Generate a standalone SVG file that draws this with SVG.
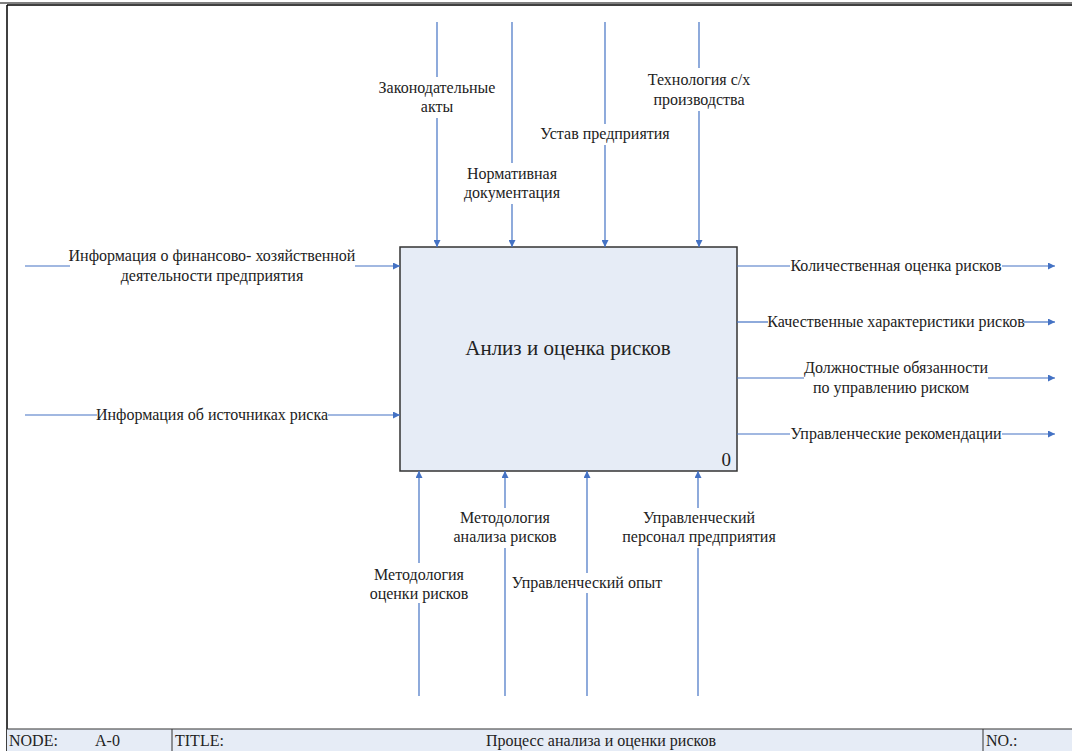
<svg xmlns="http://www.w3.org/2000/svg" width="1072" height="751" viewBox="0 0 1072 751">
<defs>
<marker id="ah" viewBox="0 0 10 10" refX="10" refY="5" markerWidth="8" markerHeight="7" markerUnits="userSpaceOnUse" orient="auto">
<path d="M0,0 L10,5 L0,10 z" fill="#4472c4"/>
</marker>
</defs>
<style>
.ln{stroke:#4472c4;stroke-width:1.2;fill:none}
.t{font-family:'Liberation Serif','DejaVu Serif',serif;font-size:16px;fill:#222;text-anchor:middle}
.f{font-family:'Liberation Serif','DejaVu Serif',serif;font-size:16px;fill:#222}
</style>
<rect width="1072" height="751" fill="#fff"/>
<g id="frame">
<line x1="0" y1="3" x2="1072" y2="3" stroke="#808080" stroke-width="2"/>
<line x1="7" y1="5" x2="1072" y2="5" stroke="#000" stroke-width="1.5"/>
<line x1="7" y1="5" x2="7" y2="751" stroke="#000" stroke-width="1.5"/>
<rect x="7" y="729" width="1065" height="22" fill="#e6ecf6"/>
<line x1="7" y1="729" x2="1072" y2="729" stroke="#333" stroke-width="1.2"/>
<line x1="172" y1="729" x2="172" y2="751" stroke="#333" stroke-width="1"/>
<line x1="983" y1="729" x2="983" y2="751" stroke="#333" stroke-width="1"/>
<text class="f" x="9" y="746">NODE:</text>
<text class="f" x="95" y="746">A-0</text>
<text class="f" x="175" y="746">TITLE:</text>
<text class="f" x="601" y="746" text-anchor="middle">Процесс анализа и оценки рисков</text>
<text class="f" x="986" y="746">NO.:</text>
</g>
<g id="A0">
<rect x="400" y="247" width="337" height="224" fill="#e6ecf6" stroke="#333" stroke-width="1.5"/>
<text x="568" y="355" font-family="'Liberation Serif','DejaVu Serif',serif" font-size="21" fill="#222" text-anchor="middle">Анлиз и оценка рисков</text>
<text x="731" y="466" font-family="'Liberation Serif','DejaVu Serif',serif" font-size="19" fill="#222" text-anchor="end">0</text>
</g>
<g id="connectors">
<line class="ln" x1="437" y1="22" x2="437" y2="77" />
<line class="ln" x1="437" y1="118" x2="437" y2="247" marker-end="url(#ah)"/>
<line class="ln" x1="512" y1="22" x2="512" y2="163"/>
<line class="ln" x1="512" y1="204" x2="512" y2="247" marker-end="url(#ah)"/>
<line class="ln" x1="605" y1="22" x2="605" y2="124"/>
<line class="ln" x1="605" y1="145" x2="605" y2="247" marker-end="url(#ah)"/>
<line class="ln" x1="699" y1="22" x2="699" y2="68"/>
<line class="ln" x1="699" y1="111" x2="699" y2="247" marker-end="url(#ah)"/>
<line class="ln" x1="25" y1="266" x2="70" y2="266"/>
<line class="ln" x1="355" y1="266" x2="400" y2="266" marker-end="url(#ah)"/>
<line class="ln" x1="25" y1="415" x2="97" y2="415"/>
<line class="ln" x1="328" y1="415" x2="400" y2="415" marker-end="url(#ah)"/>
<line class="ln" x1="737" y1="266" x2="790" y2="266"/>
<line class="ln" x1="1002" y1="266" x2="1055" y2="266" marker-end="url(#ah)"/>
<line class="ln" x1="737" y1="322" x2="768" y2="322"/>
<line class="ln" x1="1024" y1="322" x2="1055" y2="322" marker-end="url(#ah)"/>
<line class="ln" x1="737" y1="378" x2="804" y2="378"/>
<line class="ln" x1="988" y1="378" x2="1055" y2="378" marker-end="url(#ah)"/>
<line class="ln" x1="737" y1="434" x2="790" y2="434"/>
<line class="ln" x1="1002" y1="434" x2="1055" y2="434" marker-end="url(#ah)"/>
<line class="ln" x1="419" y1="696" x2="419" y2="603"/>
<line class="ln" x1="419" y1="563" x2="419" y2="471" marker-end="url(#ah)"/>
<line class="ln" x1="505" y1="696" x2="505" y2="548"/>
<line class="ln" x1="505" y1="508" x2="505" y2="471" marker-end="url(#ah)"/>
<line class="ln" x1="587" y1="696" x2="587" y2="593"/>
<line class="ln" x1="587" y1="573" x2="587" y2="471" marker-end="url(#ah)"/>
<line class="ln" x1="698" y1="696" x2="698" y2="548"/>
<line class="ln" x1="698" y1="508" x2="698" y2="471" marker-end="url(#ah)"/>
</g>
<g id="labels">
<text class="t" x="437" y="93">Законодательные</text>
<text class="t" x="437" y="112">акты</text>
<text class="t" x="512" y="179">Нормативная</text>
<text class="t" x="512" y="198">документация</text>
<text class="t" x="605" y="139">Устав предприятия</text>
<text class="t" x="699" y="85">Технология с/х</text>
<text class="t" x="699" y="105">производства</text>
<text class="t" x="212" y="261">Информация о финансово- хозяйственной</text>
<text class="t" x="212" y="281">деятельности предприятия</text>
<text class="t" x="212" y="420">Информация об источниках риска</text>
<text class="t" x="896" y="271">Количественная оценка рисков</text>
<text class="t" x="896" y="327">Качественные характеристики рисков</text>
<text class="t" x="896" y="373">Должностные обязанности</text>
<text class="t" x="891" y="393">по управлению риском</text>
<text class="t" x="896" y="439">Управленческие рекомендации</text>
<text class="t" x="419" y="580">Методология</text>
<text class="t" x="419" y="599">оценки рисков</text>
<text class="t" x="505" y="523">Методология</text>
<text class="t" x="505" y="542">анализа рисков</text>
<text class="t" x="587" y="588">Управленческий опыт</text>
<text class="t" x="699" y="523">Управленческий</text>
<text class="t" x="699" y="542">персонал предприятия</text>
</g>
</svg>
